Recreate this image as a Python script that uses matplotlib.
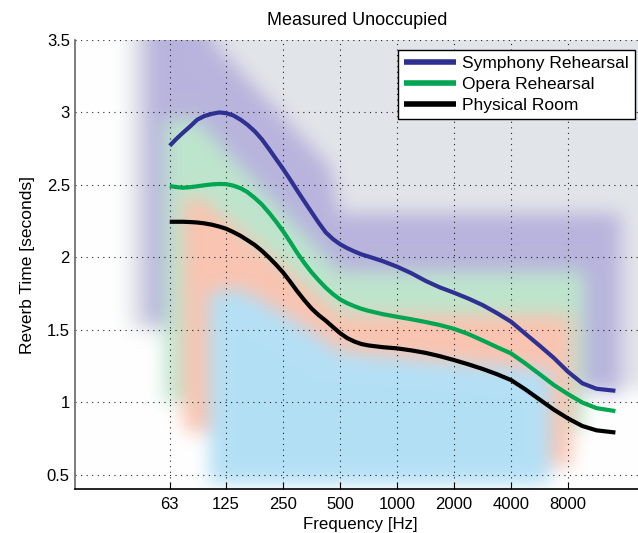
import numpy as np
import matplotlib
matplotlib.use('Agg')
import matplotlib.pyplot as plt
from matplotlib.path import Path
from matplotlib.ticker import FixedLocator, NullLocator, FixedFormatter

plt.rcParams['font.family'] = ['Liberation Sans', 'DejaVu Sans']

# ---- data ----
freq = [63, 68, 74, 81, 88, 96, 105, 115, 125, 136, 149, 162, 177, 193, 210, 229,
        250, 273, 297, 324, 354, 386, 420, 459, 500, 545, 595, 648, 707, 841, 1000,
        1189, 1414, 1682, 2000, 2378, 2828, 3364, 4000, 4757, 5657, 6727, 8000,
        9514, 11314, 14230]
symphony = [2.77, 2.815, 2.86, 2.905, 2.95, 2.975, 2.99, 3.0, 2.995, 2.98, 2.95, 2.915,
            2.87, 2.815, 2.75, 2.68, 2.61, 2.535, 2.46, 2.385, 2.31, 2.237, 2.172, 2.125,
            2.09, 2.063, 2.04, 2.02, 2.005, 1.973, 1.935, 1.89, 1.837, 1.792, 1.755,
            1.715, 1.67, 1.615, 1.555, 1.472, 1.39, 1.305, 1.209, 1.13, 1.092, 1.078]
opera = [2.492, 2.485, 2.48, 2.484, 2.49, 2.497, 2.503, 2.506, 2.505, 2.495, 2.477, 2.45,
         2.41, 2.365, 2.31, 2.248, 2.18, 2.105, 2.03, 1.96, 1.895, 1.84, 1.79, 1.745,
         1.709, 1.683, 1.662, 1.644, 1.63, 1.607, 1.589, 1.572, 1.553, 1.532, 1.506,
         1.47, 1.426, 1.38, 1.336, 1.267, 1.193, 1.118, 1.055, 0.997, 0.958, 0.938]
physical = [2.245, 2.245, 2.245, 2.243, 2.24, 2.234, 2.225, 2.212, 2.197, 2.175, 2.148,
            2.118, 2.085, 2.045, 2.0, 1.95, 1.895, 1.83, 1.765, 1.703, 1.645, 1.6, 1.562,
            1.518, 1.476, 1.442, 1.418, 1.401, 1.391, 1.379, 1.371, 1.357, 1.34, 1.317,
            1.29, 1.261, 1.229, 1.193, 1.152, 1.088, 1.018, 0.948, 0.887, 0.835, 0.805,
            0.79]

series_names = ['Symphony Rehearsal', 'Opera Rehearsal', 'Physical Room']
series_colors = ['#2e3192', '#00a651', '#000000']

xtick_freqs = [63, 125, 250, 500, 1000, 2000, 4000, 8000]
xtick_labels = ['63', '125', '250', '500', '1000', '2000', '4000', '8000']
yticks = [0.5, 1, 1.5, 2, 2.5, 3, 3.5]
ytick_labels = ['0.5', '1', '1.5', '2', '2.5', '3', '3.5']

# background ranges (Hz, seconds), painted in order
range_gray = [(38, 1.5), (38, 4.3), (32000, 4.3), (32000, 1.05)]
range_purple = [(47, 1.55), (47, 4.3), (105, 4.3), (105, 3.5), (450, 2.62),
                (500, 2.3), (15300, 2.3), (15300, 1.05)]
range_green = [(59, 1.0), (59, 2.95), (88, 2.95), (500, 1.9), (9850, 1.9), (9850, 0.8)]
range_orange = [(74, 0.8), (74, 2.4), (90, 2.42), (520, 1.6), (8460, 1.6), (8460, 0.55)]
range_blue = [(102, 0.43), (102, 1.76), (150, 1.78), (300, 1.55), (500, 1.35),
              (1000, 1.31), (4000, 1.24), (6500, 1.22), (6500, 0.43)]
range_colors = [(226, 229, 233), (184, 180, 221), (190, 229, 205), (250, 196, 177), (180, 224, 246)]

# ---- figure ----
W, H = 638, 533
fig = plt.figure(figsize=(W / 100, H / 100), dpi=100)
ax_left, ax_right, ax_top, ax_bot = 75.4, 643.4, 40, 489
pos = [ax_left / W, 1 - ax_bot / H, (ax_right - ax_left) / W, (ax_bot - ax_top) / H]
xlim = (20, 20000)
ylim = (0.4, 3.5)

# blurred background ranges
ppx = (ax_right - ax_left) / (np.log2(xlim[1]) - np.log2(xlim[0]))
ppy = (ax_bot - ax_top) / (ylim[1] - ylim[0])
x0, x1 = np.log2(12), np.log2(32000)
y0, y1 = -0.2, 4.3
nx = int((x1 - x0) * ppx)
ny = int((y1 - y0) * ppy)
xs = np.linspace(x0, x1, nx)
ys = np.linspace(y1, y0, ny)
X, Y = np.meshgrid(xs, ys)
pts = np.column_stack([X.ravel(), Y.ravel()])
img = np.ones((ny, nx, 3))
for verts, col in zip([range_gray, range_purple, range_green, range_orange, range_blue], range_colors):
    v = np.array([(np.log2(f), s) for f, s in verts])
    mask = Path(v).contains_points(pts).reshape(ny, nx)
    img[mask] = np.array(col) / 255.0
sigma = 9.0
r = int(3 * sigma)
k = np.exp(-0.5 * (np.arange(-r, r + 1) / sigma) ** 2)
k /= k.sum()
for c in range(3):
    ch = np.pad(img[:, :, c], r, mode='edge')
    ch = np.apply_along_axis(lambda m: np.convolve(m, k, mode='valid'), 1, ch)
    ch = np.apply_along_axis(lambda m: np.convolve(m, k, mode='valid'), 0, ch)
    img[:, :, c] = ch
img = np.clip(img, 0, 1)

ax_bg = fig.add_axes(pos)
ax_bg.imshow(img, extent=(x0, x1, y0, y1), aspect='auto', interpolation='bilinear')
ax_bg.set_xlim(np.log2(xlim[0]), np.log2(xlim[1]))
ax_bg.set_ylim(*ylim)
ax_bg.axis('off')

ax = fig.add_axes(pos)
ax.set_zorder(2)
ax.patch.set_alpha(0)
ax.set_xscale('log')
ax.set_xlim(*xlim)
ax.set_ylim(*ylim)

for vals, name, col in zip([symphony, opera, physical], series_names, series_colors):
    ax.plot(freq, vals, color=col, lw=3.0, label=name, solid_capstyle='butt',
            solid_joinstyle='round')

ax.xaxis.set_major_locator(FixedLocator(xtick_freqs))
ax.xaxis.set_major_formatter(FixedFormatter(xtick_labels))
ax.xaxis.set_minor_locator(NullLocator())
ax.set_yticks(yticks)
ax.set_yticklabels(ytick_labels)
ax.tick_params(axis='x', direction='in', length=5, width=0.8, labelsize=12, pad=6)
ax.tick_params(axis='y', direction='in', length=0, labelsize=12, pad=4)

ax.set_axisbelow(True)
ax.grid(True, linestyle=(0, (1, 4)), color='black', linewidth=0.8, alpha=0.85)
ax.spines['top'].set_visible(False)
ax.spines['right'].set_visible(False)
ax.spines['left'].set_color('#666666')
ax.spines['left'].set_linewidth(1.2)
ax.spines['bottom'].set_color('black')
ax.spines['bottom'].set_linewidth(1.2)

leg = ax.legend(loc='upper right', bbox_to_anchor=(635 / W, 1 - 50 / H),
                bbox_transform=fig.transFigure, borderaxespad=0, fontsize=12.5,
                frameon=True, fancybox=False, framealpha=1, edgecolor='black',
                handlelength=3.0, handletextpad=0.35, borderpad=0.35, labelspacing=0.33)
leg.get_frame().set_linewidth(1.0)
for l in leg.get_lines():
    l.set_linewidth(4)

fig.text(357 / W, 1 - 25 / H, 'Measured Unoccupied', ha='center', va='baseline', fontsize=13)
fig.text(360 / W, 1 - 529 / H, 'Frequency [Hz]', ha='center', va='baseline', fontsize=12.2)
fig.text(28 / W, 1 - 264.5 / H, 'Reverb Time [seconds]', ha='center', va='center',
         rotation=90, fontsize=12.5)

fig.savefig('out.png', dpi=100)
